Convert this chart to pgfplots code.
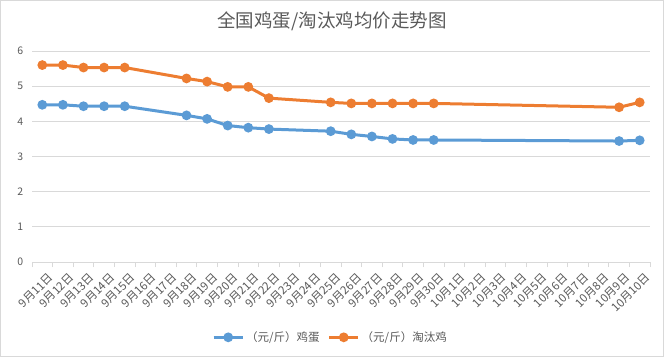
\documentclass[border=0pt]{standalone}
\usepackage{pgfplots}
\pgfplotsset{compat=1.18}
\usepackage{fontspec}
\setmainfont{Noto Sans CJK SC}
\definecolor{eggblue}{HTML}{5B9BD5}
\definecolor{henorange}{HTML}{ED7D31}
\definecolor{txt}{HTML}{595959}
\definecolor{gridc}{HTML}{D9D9D9}
\begin{document}
\begin{tikzpicture}[x=1pt,y=1pt]
\draw[gridc, line width=1pt] (0.5,0.5) rectangle (663.5,356.5);
\node[text=txt, font=\fontsize{18.5}{20}\selectfont] at (332,336) {全国鸡蛋/淘汰鸡均价走势图};
\begin{axis}[
  at={(32pt,95pt)}, anchor=south west,
  scale only axis, width=618pt, height=211pt,
  xmin=-0.5, xmax=29.5, ymin=0, ymax=6,
  ytick={0,1,2,3,4,5,6},
  ymajorgrids, grid style={gridc, line width=0.8pt},
  axis lines*=left,
  x axis line style={gridc, line width=0.8pt, -},
  y axis line style={draw=none},
  ytick style={draw=none},
  xtick={0,...,29},
  major x tick style={draw=none},
  minor xtick={-0.5,0.5,...,29.5},
  minor x tick style={gridc, line width=0.8pt},
  minor tick length=5pt,
  tick align=outside,
  xticklabels={9月11日,9月12日,9月13日,9月14日,9月15日,9月16日,9月17日,9月18日,9月19日,9月20日,9月21日,9月22日,9月23日,9月24日,9月25日,9月26日,9月27日,9月28日,9月29日,9月30日,10月1日,10月2日,10月3日,10月4日,10月5日,10月6日,10月7日,10月8日,10月9日,10月10日},
  xticklabel style={rotate=45, anchor=north east, text=txt, font=\fontsize{11.5}{12}\selectfont, inner sep=0.5pt, yshift=-7pt, xshift=0pt},
  yticklabel style={text=txt, font=\fontsize{10.5}{11}\selectfont, xshift=-1pt},
  /pgf/number format/assume math mode=true,
  legend style={draw=none, at={(0.483,-0.357)}, anchor=center, legend columns=2,
    font=\fontsize{11.5}{12}\selectfont, text=txt,
    /tikz/every even column/.append style={column sep=6pt}},
  legend image code/.code={\draw[#1, mark repeat=2, mark phase=2] plot coordinates {(0pt,0pt) (14.5pt,0pt) (29pt,0pt)};},
  every axis plot/.append style={line width=3pt, mark=*, mark size=3.3pt, mark options={solid}},
]
\addplot[color=eggblue] coordinates {
(0,4.47) (1,4.47) (2,4.43) (3,4.43) (4,4.43) (7,4.17) (8,4.07) (9,3.88) (10,3.82) (11,3.78)
(14,3.72) (15,3.63) (16,3.57) (17,3.50) (18,3.47) (19,3.47) (28,3.44) (29,3.46)};
\addlegendentry{（元/斤）鸡蛋}
\addplot[color=henorange] coordinates {
(0,5.60) (1,5.60) (2,5.53) (3,5.53) (4,5.53) (7,5.22) (8,5.13) (9,4.98) (10,4.98) (11,4.66)
(14,4.54) (15,4.51) (16,4.51) (17,4.51) (18,4.51) (19,4.51) (28,4.40) (29,4.54)};
\addlegendentry{（元/斤）淘汰鸡}
\end{axis}
\end{tikzpicture}
\end{document}
